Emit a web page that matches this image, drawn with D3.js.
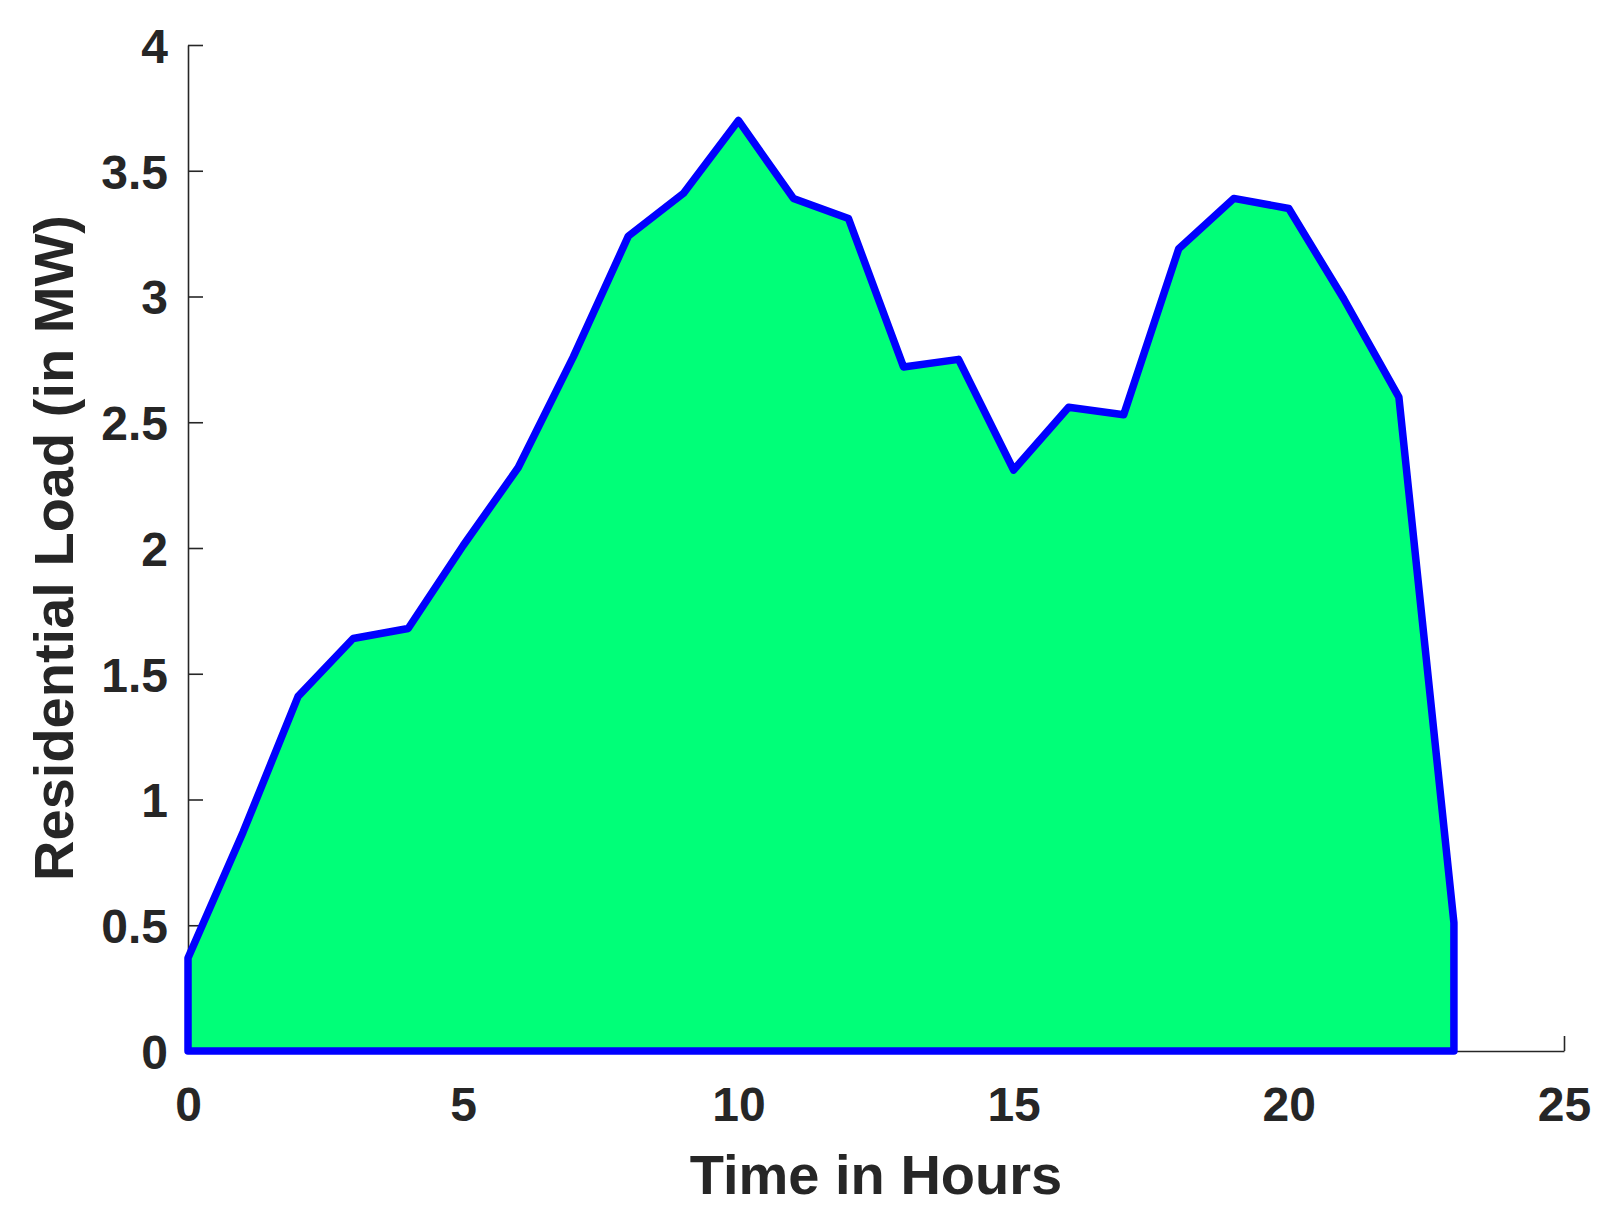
<!DOCTYPE html>
<html>
<head>
<meta charset="utf-8">
<script src="https://cdn.jsdelivr.net/npm/d3@7"></script>
<style>
  html, body { margin: 0; padding: 0; background: #fff; }
  svg { display: block; }
</style>
</head>
<body>
<div id="chart"></div>
<script>
// ── Data ─────────────────────────────────────────────────────
const hours = [0, 1, 2, 3, 4, 5, 6, 7, 8, 9, 10, 11, 12, 13, 14, 15, 16, 17, 18, 19, 20, 21, 22, 23];
const loadMW = [0.37, 0.87, 1.41, 1.64, 1.68, 2.01, 2.32, 2.76, 3.24, 3.41, 3.70, 3.39, 3.31, 2.72,
                2.75, 2.31, 2.56, 2.53, 3.19, 3.39, 3.35, 2.99, 2.60, 0.51];
const xTicks = [0, 5, 10, 15, 20, 25];
const yTicks = [0, 0.5, 1, 1.5, 2, 2.5, 3, 3.5, 4];

const W = 1612, H = 1227;
const m = { left: 188, right: 48, top: 45, bottom: 176 };
const FONT = '"Liberation Sans", Arial, Helvetica, sans-serif';
const INK = '#262626';

const x = d3.scaleLinear().domain([0, 25]).range([m.left, W - m.right]);
const y = d3.scaleLinear().domain([0, 4]).range([H - m.bottom, m.top]);

const svg = d3.select('#chart').append('svg')
  .attr('width', W).attr('height', H);

// ── Axes ─────────────────────────────────────────────────────
const xAxis = svg.append('g')
  .attr('transform', `translate(0,${y(0)})`)
  .call(d3.axisBottom(x).tickValues(xTicks).tickSizeInner(-15).tickSizeOuter(0).tickPadding(36));

const yAxis = svg.append('g')
  .attr('transform', `translate(${x(0)},0)`)
  .call(d3.axisLeft(y).tickValues(yTicks).tickSizeInner(-15).tickSizeOuter(0).tickPadding(20)
    .tickFormat(d3.format('~g')));

[xAxis, yAxis].forEach(g => {
  g.select('.domain').attr('stroke', INK).attr('stroke-width', 1.6);
  g.selectAll('.tick line').attr('stroke', INK).attr('stroke-width', 1.6);
  g.selectAll('.tick text')
    .attr('fill', INK)
    .attr('font-family', FONT)
    .attr('font-weight', 'bold')
    .attr('font-size', 48);
});
yAxis.selectAll('.tick text').attr('dy', '0.36em');

// ── Filled load profile (on top of the baseline) ─────────────
const pts = hours.map((h, i) => [h, loadMW[i]]);
const poly = [[hours[0], 0], ...pts, [hours[hours.length - 1], 0]];

svg.append('path')
  .datum(poly)
  .attr('d', d3.line().x(d => x(d[0])).y(d => y(d[1])).curve(d3.curveLinearClosed))
  .attr('fill', '#00ff78')
  .attr('stroke', '#0000ff')
  .attr('stroke-width', 7.5)
  .attr('stroke-linejoin', 'round');

// ── Axis titles ──────────────────────────────────────────────
svg.append('text')
  .attr('x', (x(0) + x(25)) / 2)
  .attr('y', 1194)
  .attr('text-anchor', 'middle')
  .attr('fill', INK)
  .attr('font-family', FONT)
  .attr('font-weight', 'bold')
  .attr('font-size', 56)
  .text('Time in Hours');

svg.append('text')
  .attr('transform', `translate(73,${(y(0) + y(4)) / 2}) rotate(-90)`)
  .attr('text-anchor', 'middle')
  .attr('fill', INK)
  .attr('font-family', FONT)
  .attr('font-weight', 'bold')
  .attr('font-size', 56)
  .text('Residential Load (in MW)');
</script>
</body>
</html>
